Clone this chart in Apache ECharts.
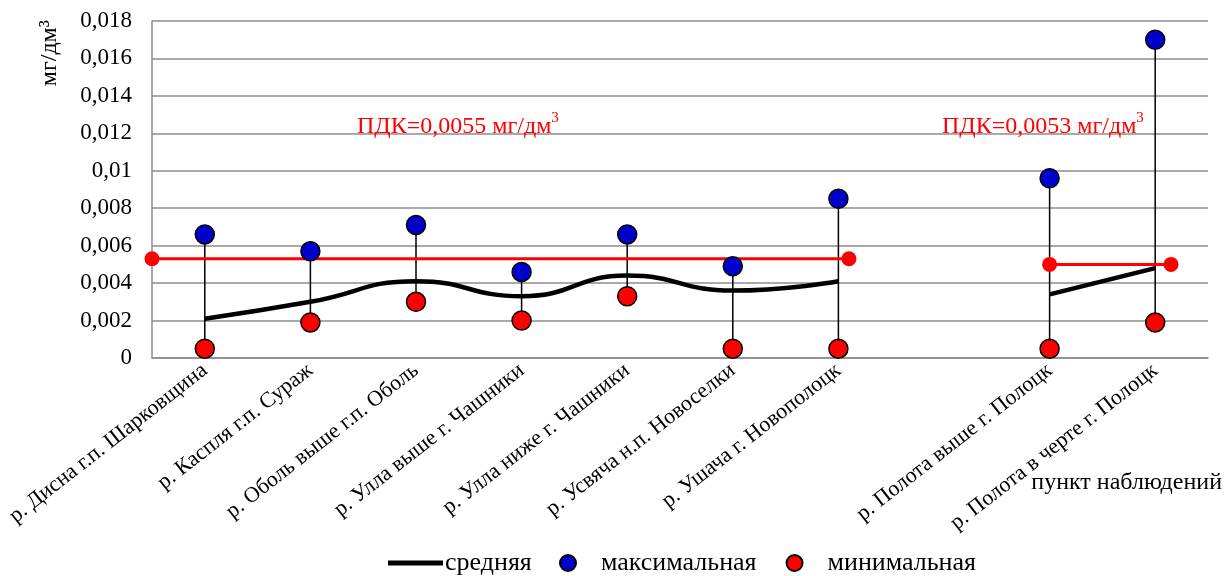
<!DOCTYPE html>
<html>
<head>
<meta charset="utf-8">
<script src="https://cdn.jsdelivr.net/npm/echarts@6/dist/echarts.min.js"></script>
<style>html,body{margin:0;padding:0;background:#fff}#c{width:1228px;height:576px}</style>
</head>
<body>
<div id="c"></div>
<script>
// ---- data ----
var categories = [
  'р. Дисна г.п. Шарковщина',
  'р. Каспля г.п. Сураж',
  'р. Оболь выше г.п. Оболь',
  'р. Улла выше г. Чашники',
  'р. Улла ниже г. Чашники',
  'р. Усвяча н.п. Новоселки',
  'р. Ушача г. Новополоцк',
  '',
  'р. Полота выше г. Полоцк',
  'р. Полота в черте г. Полоцк'
];
var meanValues = [0.0021, 0.003, 0.0041, 0.0033, 0.0044, 0.0036, 0.0041, null, 0.0034, 0.0048];
var maxValues  = [0.0066, 0.0057, 0.0071, 0.0046, 0.0066, 0.0049, 0.0085, null, 0.0096, 0.017];
var minValues  = [0.0005, 0.0019, 0.003, 0.002, 0.0033, 0.0005, 0.0005, null, 0.0005, 0.0019];
// ПДК lines: [x position in category units, value]
var pdk1 = [[-0.5, 0.0053], [6.1, 0.0053]];
var pdk2 = [[8, 0.005], [9.15, 0.005]];
var pdk1Label = 'ПДК=0,0055 мг/дм';
var pdk2Label = 'ПДК=0,0053 мг/дм';
var yTicks = {min: 0, max: 0.018, interval: 0.002};
var yName = 'мг/дм³';
var xName = 'пункт наблюдений';

// ---- build ----
var FONT = '"Liberation Serif", "Times New Roman", serif';
var hl = [];
var mx = [], mn = [], mean = [];
for (var i = 0; i < categories.length; i++) {
  if (maxValues[i] != null) {
    hl.push([i, minValues[i], maxValues[i]]);
    mx.push([i, maxValues[i]]);
    mn.push([i, minValues[i]]);
  }
  mean.push(meanValues[i] == null ? '-' : meanValues[i]);
}
function fmt(v) { return String(+v.toFixed(4)).replace('.', ','); }
function pdkText(t) {
  return {
    text: '{a|' + t + '}{s|3}',
    rich: {a: {fontSize: 24, fontFamily: FONT, fill: '#ff0000', lineHeight: 28, verticalAlign: 'bottom'},
           s: {fontSize: 15, fontFamily: FONT, fill: '#ff0000', lineHeight: 28, verticalAlign: 'top'}}
  };
}

var chart = echarts.init(document.getElementById('c'), null, {renderer: 'canvas'});
chart.setOption({
  animation: false,
  textStyle: {fontFamily: FONT, color: '#000'},
  grid: {left: 152, right: 20, top: 21, bottom: 218, containLabel: false, outerBoundsMode: 'none'},
  xAxis: [{
    type: 'category',
    data: categories,
    boundaryGap: true,
    axisLine: {lineStyle: {color: '#8c8c8c', width: 1.5}},
    axisTick: {show: false},
    axisLabel: {rotate: 38, interval: 0, fontSize: 22, fontFamily: FONT, color: '#000', margin: 10}
  }, {
    type: 'value', min: -0.5, max: 9.5, show: false
  }],
  yAxis: {
    type: 'value',
    min: yTicks.min, max: yTicks.max, interval: yTicks.interval,
    axisLine: {show: true, onZero: false, lineStyle: {color: '#8c8c8c', width: 1.5}},
    axisTick: {show: false},
    splitLine: {lineStyle: {color: '#8c8c8c', width: 1.5}},
    axisLabel: {fontSize: 23, fontFamily: FONT, color: '#000', margin: 20, formatter: fmt}
  },
  legend: [{
    left: 383, top: 545,
    itemWidth: 55, itemHeight: 5, itemGap: 40,
    textStyle: {fontSize: 26, fontFamily: FONT, color: '#000', padding: [0, 0, 0, -3]},
    data: [{name: 'средняя', icon: 'rect'}]
  }, {
    left: 554, top: 545,
    itemWidth: 16, itemHeight: 16, itemGap: 29,
    textStyle: {fontSize: 26, fontFamily: FONT, color: '#000', padding: [0, 0, 0, 20]},
    data: ['максимальная', 'минимальная']
  }],
  graphic: [{
    type: 'text', x: 50, y: 20, rotation: Math.PI / 2, z: 100,
    style: {text: yName, fontSize: 24, fontFamily: FONT, fill: '#000', align: 'right', verticalAlign: 'middle'}
  }, {
    type: 'text', x: 1222, y: 483, z: 100,
    style: {text: xName, fontSize: 24, fontFamily: FONT, fill: '#000', align: 'right', verticalAlign: 'middle'}
  }, {
    type: 'text', left: 357, top: 111, z: 100, style: pdkText(pdk1Label)
  }, {
    type: 'text', left: 942, top: 111, z: 100, style: pdkText(pdk2Label)
  }],
  series: [{
    name: 'hl',
    type: 'custom',
    xAxisIndex: 0,
    data: hl,
    encode: {x: 0, y: [1, 2]},
    z: 2,
    renderItem: function (params, api) {
      var p1 = api.coord([api.value(0), api.value(1)]);
      var p2 = api.coord([api.value(0), api.value(2)]);
      return {type: 'line', shape: {x1: p1[0], y1: p1[1], x2: p2[0], y2: p2[1]},
              style: {stroke: '#000', lineWidth: 1.5}};
    }
  }, {
    name: 'pdk1', type: 'line', xAxisIndex: 1, data: pdk1, z: 3,
    symbol: 'circle', symbolSize: 15, showSymbol: true,
    lineStyle: {color: '#ff0000', width: 3}, itemStyle: {color: '#ff0000'}
  }, {
    name: 'pdk2', type: 'line', xAxisIndex: 1, data: pdk2, z: 3,
    symbol: 'circle', symbolSize: 15, showSymbol: true,
    lineStyle: {color: '#ff0000', width: 3}, itemStyle: {color: '#ff0000'}
  }, {
    name: 'средняя', type: 'line', xAxisIndex: 0, data: mean, z: 4,
    smooth: 0.5, connectNulls: false, symbol: 'none', showSymbol: false,
    lineStyle: {color: '#000', width: 4.5}, itemStyle: {color: '#000'}
  }, {
    name: 'максимальная', type: 'scatter', xAxisIndex: 0, data: mx, z: 5,
    symbol: 'circle', symbolSize: 19,
    itemStyle: {color: '#0000cc', borderColor: '#000', borderWidth: 1.5, opacity: 1}
  }, {
    name: 'минимальная', type: 'scatter', xAxisIndex: 0, data: mn, z: 5,
    symbol: 'circle', symbolSize: 19,
    itemStyle: {color: '#ff0000', borderColor: '#000', borderWidth: 1.5, opacity: 1}
  }]
});
</script>
</body>
</html>
